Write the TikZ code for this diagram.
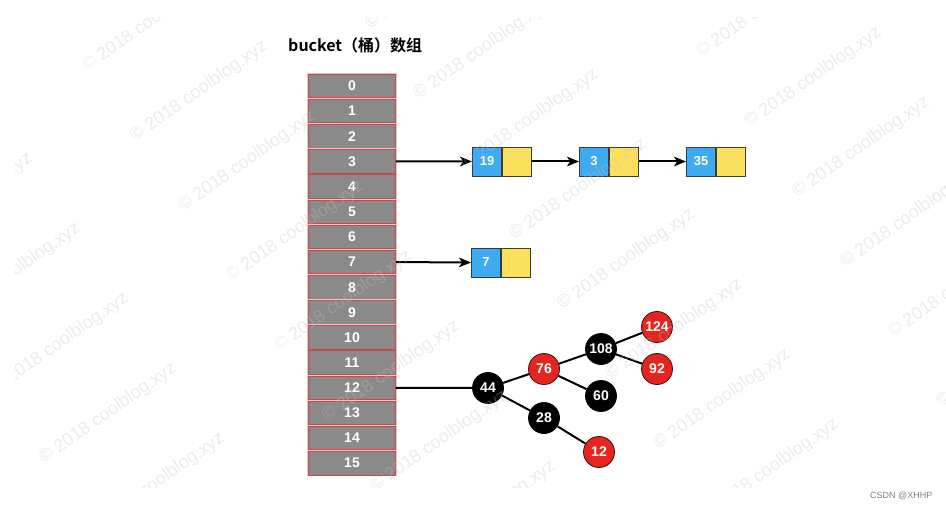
\documentclass[tikz,border=0pt]{standalone}
\usepackage{fontspec}
\setmainfont{Liberation Sans}
\newfontfamily\cjkb{Noto Sans CJK SC Bold}
\usetikzlibrary{arrows.meta}
\definecolor{cellgray}{HTML}{8A8A8A}
\definecolor{cellred}{HTML}{C84B4B}
\definecolor{cellhalo}{HTML}{F0C4C4}
\definecolor{lblue}{HTML}{3DAAF2}
\definecolor{lyellow}{HTML}{FCE05C}
\definecolor{rbred}{HTML}{E4261F}
\definecolor{wmgray}{HTML}{C4C4C4}
\definecolor{boxline}{HTML}{3A3A3A}
\tikzset{
  cell/.style={rectangle, draw=cellred, line width=0.9pt, fill=cellgray,
    preaction={draw=cellhalo, line width=2.6pt},
    minimum width=87pt, minimum height=23.5pt, inner sep=0pt,
    text=white, font=\bfseries\fontsize{14}{14}\selectfont},
  keybox/.style={rectangle, draw=boxline, line width=0.8pt, fill=lblue,
    minimum width=29pt, minimum height=29pt, inner sep=0pt,
    text=white, font=\bfseries\fontsize{13}{13}\selectfont},
  ptrbox/.style={rectangle, draw=boxline, line width=0.8pt, fill=lyellow,
    minimum width=29pt, minimum height=29pt, inner sep=0pt},
  rbblack/.style={circle, draw=black, line width=0.8pt, fill=black,
    minimum size=31pt, inner sep=0pt,
    text=white, font=\bfseries\fontsize{14}{14}\selectfont},
  rbred/.style={rbblack, draw=black!70!rbred, fill=rbred},
  arr/.style={line width=2pt, -{Stealth[length=12pt,width=9.5pt,inset=3pt]}},
  edge/.style={line width=2pt},
  wm/.style={rotate=35, anchor=base west, inner sep=0pt,
    font=\fontsize{18}{18}\selectfont, text=wmgray, text opacity=0.32}
}
\begin{document}
\begin{tikzpicture}[x=1pt,y=-1pt]
\useasboundingbox (0,0) rectangle (946,508);
\fill[white] (0,0) rectangle (946,508);

% title
\node[anchor=base west, inner sep=0pt, font=\cjkb\fontsize{16}{16}\selectfont] (title) at (288,52) {bucket（桶）数组};

% bucket array
\foreach \k in {0,...,15}{
  \node[cell] (c\k) at (352,{86+25.15*\k}) {\k};
}

% linked lists
\node[keybox] (n19) at (487,161.5) {19};
\node[ptrbox, anchor=west] (n19p) at (n19.east) {};
\node[keybox] (n3) at (594,161.5) {3};
\node[ptrbox, anchor=west] (n3p) at (n3.east) {};
\node[keybox] (n35) at (701,161.5) {35};
\node[ptrbox, anchor=west] (n35p) at (n35.east) {};
\node[keybox] (n7) at (486,262.5) {7};
\node[ptrbox, anchor=west] (n7p) at (n7.east) {};

\draw[arr] (c3.east) -- (n19.west);
\draw[arr] (n19p.east) -- (n3.west);
\draw[arr] (n3p.east) -- (n35.west);
\draw[arr] (c7.east) -- (n7.west);

% red-black tree
\node[rbblack] (t44) at (488,388) {44};
\node[rbred] (t76) at (544,369) {76};
\node[rbblack] (t108) at (601,349) {108};
\node[rbred] (t124) at (657,327) {124};
\node[rbred] (t92) at (657,369) {92};
\node[rbblack] (t60) at (601,396) {60};
\node[rbblack] (t28) at (544,418) {28};
\node[rbred] (t12) at (599,452) {12};

\draw[edge] (c12.east) -- (t44);
\draw[edge] (t44) -- (t76);
\draw[edge] (t44) -- (t28);
\draw[edge] (t76) -- (t108);
\draw[edge] (t76) -- (t60);
\draw[edge] (t108) -- (t124);
\draw[edge] (t108) -- (t92);
\draw[edge] (t28) -- (t12);

% watermarks
\begin{scope}
\clip (15,18) rectangle (946,487);
\foreach \x/\y [count=\w] in {
  -100/254, -52/324, -4/394, 44/464, 92/534,
  87/72, 135/142, 183/212, 231/282, 279/352, 327/422, 375/492, 423/562,
  370/30, 418/100, 466/170, 514/240, 562/310, 610/380, 658/450, 706/520,
  701/58, 749/128, 797/198, 845/268, 893/338, 941/408}{
  \node[wm] (wm\w) at (\x,\y) {© 2018 coolblog.xyz};
}
\end{scope}

\node[anchor=base west, inner sep=0pt, text=black!50, font=\fontsize{9}{9}\selectfont] (csdn) at (870,498) {CSDN @XHHP};
\end{tikzpicture}
\end{document}
